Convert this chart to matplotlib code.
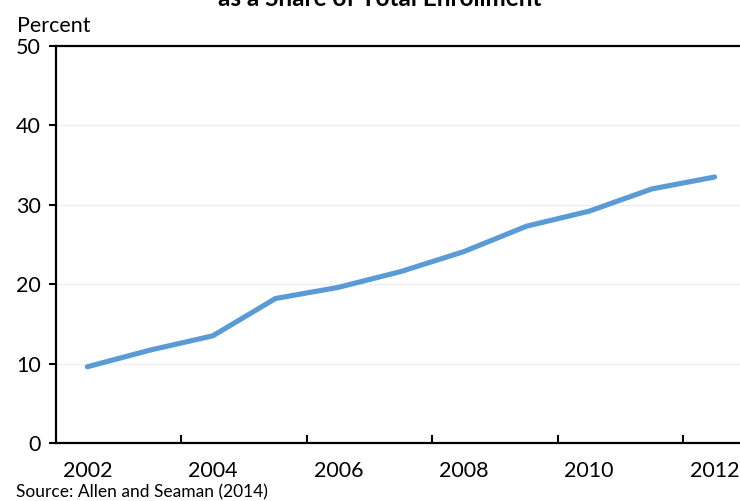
import matplotlib
matplotlib.use("Agg")
import matplotlib.pyplot as plt
import numpy as np

years = ["2002", "2003", "2004", "2005", "2006", "2007", "2008", "2009", "2010", "2011", "2012"]
share = [9.6, 11.7, 13.5, 18.2, 19.6, 21.6, 24.1, 27.3, 29.2, 32.0, 33.5]
y_ticks = [0, 10, 20, 30, 40, 50]

plt.rcParams['font.family'] = ['Lato', 'DejaVu Sans']

fig = plt.figure(figsize=(7.40, 5.01), dpi=100)
ax = fig.add_axes([56/740, 58/501, 690/740, 397/501])

x = np.arange(len(years))
ax.plot(x, share, color='#5B9BD5', lw=3.7, solid_capstyle='round', solid_joinstyle='round', zorder=3)

ax.set_xlim(-0.5, len(years) - 0.5)
ax.set_ylim(0, 50)
ax.set_yticks(y_ticks)
ax.set_yticklabels([str(v) for v in y_ticks], fontsize=15.5)
for v in y_ticks[1:-1]:
    ax.axhline(v, color='#EEEEEE', lw=1.0, zorder=1)

ax.set_xticks(x[::2])
ax.set_xticklabels(years[::2], fontsize=15.5)
ax.tick_params(axis='x', which='major', length=0, pad=13)
ax.set_xticks(np.arange(1.5, len(years) - 1, 2), minor=True)
ax.tick_params(axis='x', which='minor', direction='in', length=6, width=1.5)
ax.tick_params(axis='y', direction='out', length=5, width=1.5, pad=6)

for s in ax.spines.values():
    s.set_linewidth(1.6)
    s.set_color('black')

fig.text(17/740, 1 - 32/501, "Percent", fontsize=15.5, ha='left', va='baseline')
fig.text(380/740, 1 - 6/501, "as a Share of Total Enrollment", fontsize=17.5, fontweight='bold', ha='center', va='baseline')
fig.text(16/740, 1 - 497/501, "Source: Allen and Seaman (2014)", fontsize=12.5, ha='left', va='baseline')

fig.savefig("out.png", dpi=100)
